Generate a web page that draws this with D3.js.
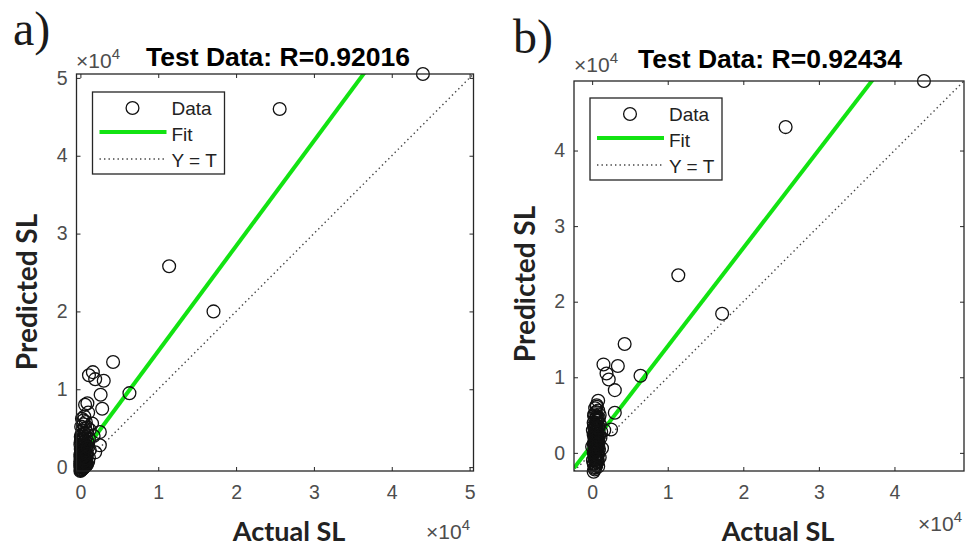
<!DOCTYPE html>
<html>
<head>
<meta charset="utf-8">
<script src="https://cdn.jsdelivr.net/npm/d3@7"></script>
<style>
  html, body { margin: 0; padding: 0; background: #fff; }
  svg { display: block; }
</style>
</head>
<body>
<svg id="chart" width="973" height="547"></svg>
<script>
// ---- data (SL values) ----
const panelTags = ["a)", "b)"];
const panelTitles = ["Test Data: R=0.92016", "Test Data: R=0.92434"];

// panel a
const actualA = [
  44000, 25600, 11400, 17100, 4200, 6300,
  1600, 1100, 1900, 3000, 2600, 2800, 900, 2500, 2500, 600, 1000, 400, 1500, 1700, 1900, 1000,
  0, 100, 200, 0, 300, 100, 400, 200, 500, 0, 300, 600, 100, 400, 700, 200, 500, 0, 300, 800,
  600, 100, 400, 700, 200, 500, 0, 800, 300, 600, 100, 400, 900, 700, 200, 500, 800, 300, 600, 100,
  900, 400, 700, 200, 500, 1200, 1100, 1200, 1000, 1100, 0, 100, 200, 0, 300, 100, 200, 400, 0, 300,
  50, 150, 250, 350, 450, 550, 650, 750, 50, 150, 250, 350, 450, 550, 650, 50, 150, 250, 350, 450,
  550, 50, 150, 250, 350, 450, 50, 150, 250, 350, 50, 150, 250, 50, 150, 850, 750, 650, 850, 950
];
const predictedA = [
  50500, 46000, 25800, 20000, 13500, 9500,
  12200, 11800, 11300, 11100, 9300, 7500, 8200, 4500, 2800, 8000, 7000, 6000, 5600, 4000, 1900, 700,
  -500, -300, 0, 200, 100, 400, 300, 600, 500, 800, 900, 800, 1100, 1200, 1000, 1400, 1500, 1600, 1800, 1400,
  1900, 2100, 2200, 2400, 2600, 2800, 2900, 2700, 3100, 3300, 3500, 3700, 3300, 3900, 4100, 4300, 4500, 4700, 5000, 5200,
  5100, 5500, 5800, 6200, 6500, 4800, 3600, 2200, 3000, 1200, 0, 100, 200, 500, 400, 700, 1000, 700, 1300, 1500,
  -400, -350, -250, -150, -50, 50, 150, 250, 350, 450, 550, 650, 750, 850, 950, 1050, 1150, 1250, 1350, 1450,
  1550, 1650, 1750, 1850, 1950, 2050, 2300, 2500, 2700, 2900, 3200, 3400, 3600, 3900, 4200, 350, 550, 1150, 1700, 2500
];
const limA = [-500, 50500];
const ticksA = [0, 10000, 20000, 30000, 40000, 50000];
const fitA = { slope: 1.35, intercept: 1400 };

// panel b
const actualB = [
  43900, 25600, 11400, 17200, 4300, 6400,
  1500, 3400, 1900, 2200, 3000, 3000, 2500, 1600, 800, 600, 1300, 800, 200,
  300, 500, 200, 600, 400, 700, 300, 500, 800, 200, 400, 600, 300, 900, 500, 700, 200, 400, 800, 600,
  300, 500, 900, 200, 700, 400, 600, 300, 800, 500, 200, 700, 400, 900, 600, 300, 500, 800, 400, 600,
  1000, 1100, 1000, 100, 0, 100, 1000, 1200,
  350, 450, 550, 650, 750, 350, 450, 550, 650, 750, 350, 450, 550, 650, 750, 350, 450, 550, 650, 750,
  350, 450, 550, 650, 750, 350, 450, 550, 650, 750, 850, 850, 850, 250, 250, 250
];
const predictedB = [
  49200, 43100, 23500, 18400, 14400, 10200,
  11700, 11500, 10500, 9700, 8300, 5300, 3100, 3000, 6900, 6300, 600, -1800, -2500,
  -2000, -1700, -1400, -1200, -1000, -800, -600, -400, -200, 0, 200, 400, 600, 500, 800, 1000, 1200, 1400, 1500, 1700,
  1900, 2100, 2200, 2400, 2600, 2800, 3100, 3300, 3500, 3700, 4000, 4200, 4400, 4600, 4800, 5100, 5400, 5600, 5900, 6100,
  3800, 2000, -600, -1000, 800, 3000, 5000, 2800,
  -2200, -1900, -1600, -1300, -1100, -900, -700, -500, -300, -100, 100, 300, 500, 700, 900, 1100, 1300, 1600, 1800, 2000,
  2300, 2500, 2700, 2900, 3200, 3400, 3600, 3900, 4300, 4500, 300, 1300, 2300, 3600, 4900, -1500
];
const limB = [-2400, 49200];
const ticksB = [0, 10000, 20000, 30000, 40000];
const fitB = { slope: 1.30, intercept: 1100 };

const legendLabels = ["Data", "Fit", "Y = T"];
const xLabel = "Actual SL";
const yLabel = "Predicted SL";
const exponentBase = "\u00d710";
const exponentPower = "4";

// ---- drawing ----
const svg = d3.select("#chart");
const tickFont = "'Liberation Sans', Arial, sans-serif";
const axisColor = "#262626";
const tickTextColor = "#4d4d4d";
const green = "#12e312";

const panels = [
  { tag: panelTags[0], title: panelTitles[0], x: actualA, y: predictedA, lim: limA, ticks: ticksA, fit: fitA,
    box: { left: 76.5, top: 74, size: 397 },
    tagPos: [13, 45], titleX: 278, titleY: 66, expTop: [76, 68], expBottom: [426, 539],
    xLabelPos: [289, 541], yLabelPos: [37, 292], legend: [16, 18] },
  { tag: panelTags[1], title: panelTitles[1], x: actualB, y: predictedB, lim: limB, ticks: ticksB, fit: fitB,
    box: { left: 574, top: 81, size: 390 },
    tagPos: [513, 53], titleX: 770, titleY: 68, expTop: [574, 72], expBottom: [918, 531],
    xLabelPos: [778, 541], yLabelPos: [535, 284], legend: [16, 17] }
];

function drawExponent(sel, x, y) {
  const t = sel.append("text")
    .attr("x", x).attr("y", y)
    .attr("font-family", tickFont).attr("font-size", 21)
    .attr("fill", tickTextColor);
  t.append("tspan").text(exponentBase);
  t.append("tspan").attr("dy", -9).attr("font-size", 15).text(exponentPower);
}

panels.forEach(p => {
  const b = p.box;
  const x = d3.scaleLinear().domain(p.lim).range([b.left, b.left + b.size]);
  const y = d3.scaleLinear().domain(p.lim).range([b.top + b.size, b.top]);
  const fmt = d => d3.format("d")(d / 1e4);

  // panel tag
  svg.append("text")
    .attr("x", p.tagPos[0]).attr("y", p.tagPos[1])
    .attr("font-family", "'Liberation Serif', 'DejaVu Serif', serif")
    .attr("font-size", 48).attr("fill", "#1a1a1a")
    .text(p.tag);

  // title
  svg.append("text")
    .attr("x", p.titleX).attr("y", p.titleY)
    .attr("text-anchor", "middle")
    .attr("font-family", tickFont).attr("font-weight", "bold")
    .attr("font-size", 26.5).attr("fill", "#000")
    .text(p.title);

  // axes with inward ticks on all four sides
  const axes = svg.append("g");
  const bottom = axes.append("g").attr("transform", `translate(0,${b.top + b.size})`)
    .call(d3.axisBottom(x).tickValues(p.ticks).tickFormat(fmt).tickSizeInner(-4).tickSizeOuter(0).tickPadding(14));
  const left = axes.append("g").attr("transform", `translate(${b.left},0)`)
    .call(d3.axisLeft(y).tickValues(p.ticks).tickFormat(fmt).tickSizeInner(-4).tickSizeOuter(0).tickPadding(9));
  const top = axes.append("g").attr("transform", `translate(0,${b.top})`)
    .call(d3.axisTop(x).tickValues(p.ticks).tickFormat("").tickSizeInner(-4).tickSizeOuter(0));
  const right = axes.append("g").attr("transform", `translate(${b.left + b.size},0)`)
    .call(d3.axisRight(y).tickValues(p.ticks).tickFormat("").tickSizeInner(-4).tickSizeOuter(0));
  [bottom, left, top, right].forEach(g => {
    g.select(".domain").remove();
    g.selectAll("line").attr("stroke", axisColor).attr("stroke-width", 1);
    g.selectAll("text").attr("font-family", tickFont).attr("font-size", 19.5).attr("fill", tickTextColor);
  });

  // clip region for plotted lines
  const clipId = "clip-" + p.tag.replace(/\W/g, "");
  svg.append("clipPath").attr("id", clipId)
    .append("rect").attr("x", b.left).attr("y", b.top).attr("width", b.size).attr("height", b.size);
  const plot = svg.append("g").attr("clip-path", `url(#${clipId})`);

  // Y = T reference line
  plot.append("line")
    .attr("x1", x(p.lim[0])).attr("y1", y(p.lim[0]))
    .attr("x2", x(p.lim[1])).attr("y2", y(p.lim[1]))
    .attr("stroke", "#444").attr("stroke-width", 1.4).attr("stroke-dasharray", "1.4,3.1");

  // regression fit line
  const fy = v => p.fit.slope * v + p.fit.intercept;
  plot.append("line")
    .attr("x1", x(p.lim[0])).attr("y1", y(fy(p.lim[0])))
    .attr("x2", x(p.lim[1])).attr("y2", y(fy(p.lim[1])))
    .attr("stroke", green).attr("stroke-width", 4);

  // data circles
  const pts = p.x.map((v, i) => [v, p.y[i]]);
  svg.append("g").selectAll("circle").data(pts).join("circle")
    .attr("cx", d => x(d[0])).attr("cy", d => y(d[1])).attr("r", 6.4)
    .attr("fill", "none").attr("stroke", "#111").attr("stroke-width", 1.3);

  // frame
  svg.append("rect")
    .attr("x", b.left).attr("y", b.top).attr("width", b.size).attr("height", b.size)
    .attr("fill", "none").attr("stroke", axisColor).attr("stroke-width", 1.3);

  // exponent labels
  drawExponent(svg, p.expTop[0], p.expTop[1]);
  drawExponent(svg, p.expBottom[0], p.expBottom[1]);

  // axis labels
  svg.append("text")
    .attr("x", p.xLabelPos[0]).attr("y", p.xLabelPos[1])
    .attr("text-anchor", "middle")
    .attr("font-family", "Lato, 'Open Sans', sans-serif").attr("font-weight", "bold")
    .attr("font-size", 27).attr("fill", "#222")
    .text(xLabel);
  svg.append("text")
    .attr("transform", `translate(${p.yLabelPos[0]},${p.yLabelPos[1]}) rotate(-90)`)
    .attr("text-anchor", "middle")
    .attr("font-family", "Lato, 'Open Sans', sans-serif").attr("font-weight", "bold")
    .attr("font-size", 28).attr("fill", "#222")
    .text(yLabel);

  // legend
  const lg = svg.append("g").attr("transform", `translate(${b.left + p.legend[0]},${b.top + p.legend[1]})`);
  lg.append("rect").attr("width", 132).attr("height", 82)
    .attr("fill", "#fff").attr("stroke", axisColor).attr("stroke-width", 1.3);
  lg.append("circle").attr("cx", 40).attr("cy", 16).attr("r", 6.4)
    .attr("fill", "none").attr("stroke", "#111").attr("stroke-width", 1.3);
  lg.append("line").attr("x1", 7).attr("x2", 74).attr("y1", 40).attr("y2", 40)
    .attr("stroke", green).attr("stroke-width", 4);
  lg.append("line").attr("x1", 7).attr("x2", 74).attr("y1", 67).attr("y2", 67)
    .attr("stroke", "#444").attr("stroke-width", 1.4).attr("stroke-dasharray", "1.4,3.1");
  [16, 42, 68].forEach((cy, i) => {
    lg.append("text").attr("x", 79).attr("y", cy + 7)
      .attr("font-family", tickFont).attr("font-size", 19).attr("fill", "#222")
      .text(legendLabels[i]);
  });
});
</script>
</body>
</html>
